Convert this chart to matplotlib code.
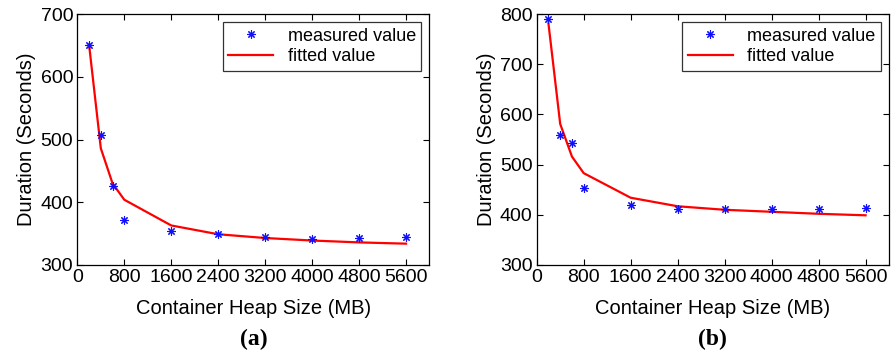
import matplotlib
matplotlib.use("Agg")
import matplotlib.pyplot as plt

plt.rcParams['font.family'] = ['Liberation Sans', 'DejaVu Sans']

heap_mb = [200, 400, 600, 800, 1600, 2400, 3200, 4000, 4800, 5600]

measured_a = [651, 507, 426, 371, 354, 350, 344, 341, 343, 345]
fitted_a = [651, 486, 430, 404, 363, 349, 343, 339, 336, 334]

measured_b = [791, 558, 544, 454, 419, 412, 411, 411, 411, 413]
fitted_b = [781, 581, 516, 483, 434, 417, 410, 406, 402, 399]

xticks = [0, 800, 1600, 2400, 3200, 4000, 4800, 5600]
yticks_a = [300, 400, 500, 600, 700]
yticks_b = [300, 400, 500, 600, 700, 800]
panel_labels = ['(a)', '(b)']
xlabel = 'Container Heap Size (MB)'
ylabel = 'Duration (Seconds)'

fig = plt.figure(figsize=(8.92, 3.58), dpi=100)
ax_a = fig.add_axes([0.0867, 0.2598, 0.3948, 0.701])
ax_b = fig.add_axes([0.6017, 0.2598, 0.3950, 0.701])

panels = [
    (ax_a, measured_a, fitted_a, yticks_a),
    (ax_b, measured_b, fitted_b, yticks_b),
]

for (ax, meas, fit, yt), lab in zip(panels, panel_labels):
    ax.plot(heap_mb, meas, linestyle='none', marker=(8, 2, 0), markersize=6,
            markeredgewidth=0.8, color='#1010ff', label='measured value', zorder=3)
    ax.plot(heap_mb, fit, color='#ff0000', linewidth=1.6, label='fitted value', zorder=2)
    ax.set_xlim(0, 6000)
    ax.set_ylim(yt[0], yt[-1])
    ax.set_xticks(xticks)
    ax.set_yticks(yt)
    ax.tick_params(direction='in', top=True, right=True, length=4, width=0.8,
                   labelsize=14, pad=3)
    for s in ax.spines.values():
        s.set_linewidth(0.9)
    ax.set_xlabel(xlabel, fontsize=14.5, labelpad=9)
    ax.set_ylabel(ylabel, fontsize=14.5, labelpad=3)
    leg = ax.legend(loc='upper right', fontsize=13, frameon=True, fancybox=False,
                    edgecolor='black', borderaxespad=0.45, handlelength=2.5,
                    handletextpad=0.8, borderpad=0.3, labelspacing=0.2)
    leg.get_frame().set_linewidth(0.9)
    ax.text(0.5, -0.295, lab, transform=ax.transAxes, ha='center', va='center',
            fontsize=17, fontweight='bold', family=['Liberation Serif', 'DejaVu Serif'])

fig.savefig('out.png', dpi=100)
